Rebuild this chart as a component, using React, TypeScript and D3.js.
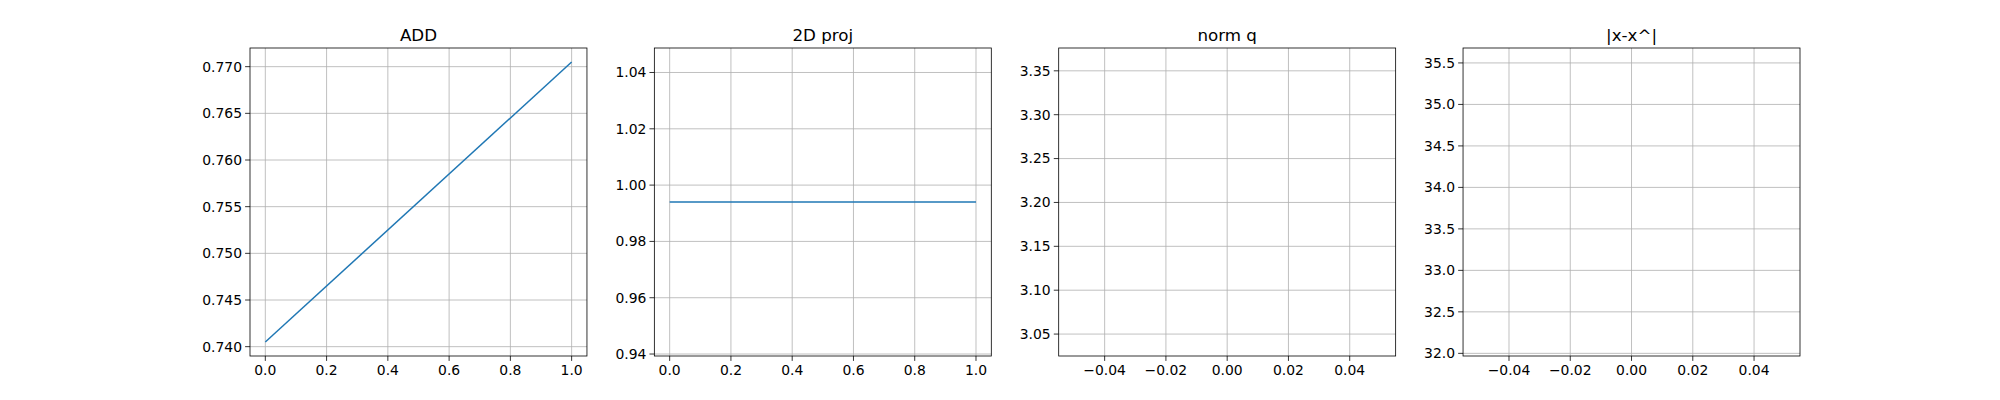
import React from "react";
import * as d3 from "d3";

const titles = ["ADD", "2D proj", "norm q", "|x-x^|"];
const addX = [0, 1];
const addY = [0.7405, 0.7705];
const projX = [0, 1];
const projY = [0.994, 0.994];
const xDomains: [number, number][] = [[-0.05, 1.05], [-0.05, 1.05], [-0.055, 0.055], [-0.055, 0.055]];
const yDomains: [number, number][] = [[0.739, 0.772], [0.9393, 1.0487], [3.025, 3.376], [31.968, 35.68]];
const xTicks = [[0, 0.2, 0.4, 0.6, 0.8, 1.0], [0, 0.2, 0.4, 0.6, 0.8, 1.0], [-0.04, -0.02, 0, 0.02, 0.04], [-0.04, -0.02, 0, 0.02, 0.04]];
const yTicks = [
  [0.74, 0.745, 0.75, 0.755, 0.76, 0.765, 0.77],
  [0.94, 0.96, 0.98, 1.0, 1.02, 1.04],
  [3.05, 3.1, 3.15, 3.2, 3.25, 3.3, 3.35],
  [32.0, 32.5, 33.0, 33.5, 34.0, 34.5, 35.0, 35.5],
];
const xFmt = [d3.format(".1f"), d3.format(".1f"), d3.format(".2f"), d3.format(".2f")];
const yFmt = [d3.format(".3f"), d3.format(".2f"), d3.format(".2f"), d3.format(".1f")];
const series: ([number[], number[]] | null)[] = [[addX, addY], [projX, projY], null, null];

export default function App() {
  const W = 2000, H = 400;
  const left = 250, right = 1800, top = 48, bottom = 356;
  const w = (right - left) / 4.6;
  const gap = w * 0.2;
  const font = "DejaVu Sans, sans-serif";
  return (
    <svg width={W} height={H} style={{ position: "absolute", left: 0, top: 0 }}>
      <rect width={W} height={H} fill="#fff" />
      {titles.map((t, i) => {
        const x0 = left + i * (w + gap);
        const xs = d3.scaleLinear().domain(xDomains[i]).range([x0, x0 + w]);
        const ys = d3.scaleLinear().domain(yDomains[i]).range([bottom, top]);
        const s = series[i];
        const line = d3.line<number>().x((_, k) => xs(s![0][k])).y((v) => ys(v));
        return (
          <g key={i}>
            {xTicks[i].map((v) => (
              <g key={"x" + v}>
                <line x1={xs(v)} x2={xs(v)} y1={top} y2={bottom} stroke="#b0b0b0" strokeWidth={0.8} />
                <line x1={xs(v)} x2={xs(v)} y1={bottom} y2={bottom + 4.9} stroke="#000" strokeWidth={0.8} />
                <text x={xs(v)} y={bottom + 18.5} fontSize={13.9} fontFamily={font} textAnchor="middle">
                  {xFmt[i](v).replace("-", "\u2212")}
                </text>
              </g>
            ))}
            {yTicks[i].map((v) => (
              <g key={"y" + v}>
                <line x1={x0} x2={x0 + w} y1={ys(v)} y2={ys(v)} stroke="#b0b0b0" strokeWidth={0.8} />
                <line x1={x0 - 4.9} x2={x0} y1={ys(v)} y2={ys(v)} stroke="#000" strokeWidth={0.8} />
                <text x={x0 - 8} y={ys(v)} dy="0.35em" fontSize={13.9} fontFamily={font} textAnchor="end">
                  {yFmt[i](v)}
                </text>
              </g>
            ))}
            {s && <path d={line(s[1]) || ""} fill="none" stroke="#1f77b4" strokeWidth={1.5} />}
            <rect x={x0} y={top} width={w} height={bottom - top} fill="none" stroke="#000" strokeWidth={0.8} />
            <text x={x0 + w / 2} y={top - 7} fontSize={16.7} fontFamily={font} textAnchor="middle">{t}</text>
          </g>
        );
      })}
    </svg>
  );
}
